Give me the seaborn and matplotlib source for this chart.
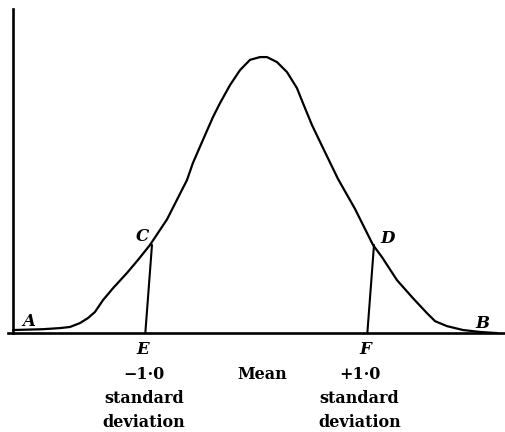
import pandas as pd
import seaborn as sns
import matplotlib.pyplot as plt

# Normal curve: x in standard deviations, y relative to the peak
curve_x = [-2.252, -1.982, -1.829, -1.739, -1.649, -1.577, -1.514, -1.441, -1.351, -1.225,
           -1.126, -1.018, -0.865, -0.685, -0.631, -0.541, -0.450, -0.387, -0.297, -0.207,
           -0.117, -0.027, 0.036, 0.126, 0.216, 0.306, 0.360, 0.441, 0.532, 0.676,
           0.829, 0.910, 0.991, 1.072, 1.207, 1.351, 1.477, 1.550, 1.658, 1.802,
           1.955, 2.108]
curve_y = [0.011, 0.014, 0.018, 0.022, 0.036, 0.054, 0.076, 0.119, 0.162, 0.217,
           0.264, 0.318, 0.410, 0.552, 0.614, 0.697, 0.780, 0.830, 0.895, 0.949,
           0.986, 0.996, 0.996, 0.978, 0.942, 0.884, 0.830, 0.751, 0.675, 0.556,
           0.448, 0.383, 0.318, 0.274, 0.191, 0.126, 0.072, 0.043, 0.025, 0.011,
           0.004, 0.000]

# the two ordinates C-E and D-F (top on the curve, foot on the base line)
ord_top_x = [-1.00, 1.00]
ord_foot_x = [-1.06, 0.94]
ord_top_y = [0.318, 0.318]

# letters on the curve and under the base line
point_names = ['A', 'B', 'C', 'D', 'E', 'F']
point_x = [-2.11, 1.98, -1.09, 1.12, -1.08, 0.92]
point_y = [0.040, 0.036, 0.347, 0.343, -0.061, -0.061]

# captions under the axis, one row per line
caption_rows = [['\u22121\u00b70', 'Mean', '+1\u00b70'],
                ['standard', '', 'standard'],
                ['deviation', '', 'deviation']]
caption_x = [-1.07, -0.01, 0.87]
caption_y = [-0.148, -0.235, -0.321]

sns.set_style('white')
plt.rcParams['font.family'] = ['DejaVu Serif']
plt.rcParams['text.color'] = 'black'

fig = plt.figure(figsize=(5.06, 4.32), dpi=100)
ax = fig.add_axes([0, 0, 1, 1])

curve = pd.DataFrame({'x': curve_x, 'y': curve_y})
sns.lineplot(data=curve, x='x', y='y', sort=False, color='black', linewidth=1.6, ax=ax)

for tx, fx, ty in zip(ord_top_x, ord_foot_x, ord_top_y):
    seg = pd.DataFrame({'x': [tx, fx], 'y': [ty, 0]})
    sns.lineplot(data=seg, x='x', y='y', sort=False, color='black', linewidth=1.5, ax=ax)

# axes drawn as spines through the origin
for side in ['top', 'right']:
    ax.spines[side].set_visible(False)
ax.spines['left'].set_position(('data', -2.25))
ax.spines['left'].set_bounds(0, 1.17)
ax.spines['bottom'].set_position(('data', 0))
ax.spines['bottom'].set_bounds(-2.30, 2.19)
for side in ['left', 'bottom']:
    ax.spines[side].set_linewidth(1.9)
    ax.spines[side].set_color('black')

# small tick at the mean
ax.set_xticks([0])
ax.set_xticklabels([])
ax.tick_params(axis='x', direction='in', length=5, width=1.2, color='black')
ax.set_yticks([])
ax.set_xlabel('')
ax.set_ylabel('')

ax.set_xlim(-2.369, 2.189)
ax.set_ylim(-0.357, 1.202)

for name, px, py in zip(point_names, point_x, point_y):
    ax.text(px, py, name, fontsize=12, fontweight='bold', fontstyle='italic',
            ha='center', va='center', color='black')

for row, cy in zip(caption_rows, caption_y):
    for cap, cx in zip(row, caption_x):
        if cap:
            ax.text(cx, cy, cap, fontsize=11.5, fontweight='bold', ha='center',
                    va='center', color='black')

fig.savefig('out.png', dpi=100)
